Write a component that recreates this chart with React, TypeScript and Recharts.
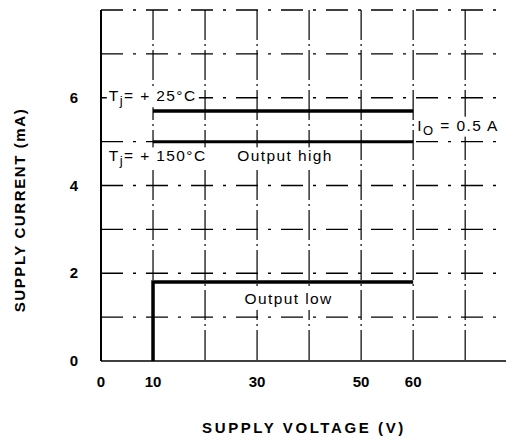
import { LineChart, Line, XAxis, YAxis, CartesianGrid, ReferenceDot } from 'recharts'

const xTicks = [0, 10, 30, 50, 60]
const yTicks = [0, 2, 4, 6]
const xDomain = [0, 79]
const yDomain = [0, 8]
const gridVoltages = [10, 20, 30, 40, 50, 60, 70]
const gridCurrents = [1, 2, 3, 4, 5, 6, 7, 8]

// output high, Tj = +25 C
const high25 = [
  { v: 10, i: 5.7 },
  { v: 60, i: 5.7 },
]
// output high, Tj = +150 C
const high150 = [
  { v: 10, i: 5.0 },
  { v: 60, i: 5.0 },
]
// output low
const low = [
  { v: 10, i: 0 },
  { v: 10, i: 1.8 },
  { v: 60, i: 1.8 },
]

const font = '"Liberation Sans", Arial, sans-serif'

// label with a white backing so grid lines break around it, like the printed chart
const Note = ({ cx, cy, text, sub, rest, w }: any) => (
  <g>
    <rect x={cx - 2} y={cy - 14} width={w} height={20} fill="#fff" />
    <text x={cx} y={cy} fontFamily={font} fontSize={15.5} letterSpacing={1.4} fill="#000">
      {text}
      {sub && (
        <tspan fontSize={13} dy={4}>
          {sub}
        </tspan>
      )}
      {rest && <tspan dy={sub ? -4 : 0}>{rest}</tspan>}
    </text>
  </g>
)

const XTick = ({ x, y, payload }: any) => (
  <text x={x} y={y + 18} textAnchor="middle" fontFamily={font} fontWeight="bold" fontSize={15} fill="#000">
    {payload.value}
  </text>
)

const YTick = ({ x, y, payload }: any) => (
  <text x={x - 19} y={y + 5} textAnchor="middle" fontFamily={font} fontWeight="bold" fontSize={15} fill="#000">
    {payload.value}
  </text>
)

// grid positions through the axis scale when available, otherwise from the plot offset
const vGrid = ({ xAxis, offset }: any) => {
  if (xAxis && typeof xAxis.scale === 'function') return gridVoltages.map((g) => xAxis.scale(g))
  return gridVoltages.map((g) => offset.left + ((g - xDomain[0]) / (xDomain[1] - xDomain[0])) * offset.width)
}
const hGrid = ({ yAxis, offset }: any) => {
  if (yAxis && typeof yAxis.scale === 'function') return gridCurrents.map((g) => yAxis.scale(g))
  return gridCurrents.map((g) => offset.top + (1 - (g - yDomain[0]) / (yDomain[1] - yDomain[0])) * offset.height)
}

export default function App() {
  return (
    <LineChart width={506} height={432} margin={{ top: 2, right: 2, bottom: 0, left: 0 }}>
      <CartesianGrid
        horizontal={false}
        stroke="#000"
        strokeWidth={1.2}
        strokeDasharray="30 4 2 4"
        verticalCoordinatesGenerator={vGrid}
      />
      <CartesianGrid
        vertical={false}
        stroke="#000"
        strokeWidth={1.3}
        strokeDasharray="22 10 3 10"
        horizontalCoordinatesGenerator={hGrid}
      />
      <XAxis
        type="number"
        dataKey="v"
        domain={xDomain}
        ticks={xTicks}
        tick={<XTick />}
        tickLine={false}
        axisLine={{ stroke: '#000', strokeWidth: 1.5 }}
        height={79}
        allowDataOverflow
        label={() => (
          <text
            x={296}
            y={425}
            textAnchor="middle"
            fontFamily={font}
            fontWeight="bold"
            fontSize={15}
            letterSpacing={2.6}
            fill="#000"
          >
            SUPPLY VOLTAGE (V)
          </text>
        )}
      />
      <YAxis
        type="number"
        domain={yDomain}
        ticks={yTicks}
        tick={<YTick />}
        tickLine={false}
        axisLine={{ stroke: '#000', strokeWidth: 2 }}
        width={93}
        allowDataOverflow
        label={() => (
          <text
            x={17}
            y={202}
            transform="rotate(-90 17 202)"
            textAnchor="middle"
            fontFamily={font}
            fontWeight="bold"
            fontSize={15}
            letterSpacing={1.6}
            fill="#000"
          >
            SUPPLY CURRENT (mA)
          </text>
        )}
      />
      <Line data={high25} dataKey="i" type="linear" stroke="#000" strokeWidth={3.5} dot={false} isAnimationActive={false} />
      <Line data={high150} dataKey="i" type="linear" stroke="#000" strokeWidth={3} dot={false} isAnimationActive={false} />
      <Line data={low} dataKey="i" type="linear" stroke="#000" strokeWidth={3.5} dot={false} isAnimationActive={false} />
      <ReferenceDot x={1.5} y={5.92} r={0} shape={(p: any) => <Note {...p} w={92} text="T" sub="j" rest="= + 25°C" />} />
      <ReferenceDot x={1.5} y={4.55} r={0} shape={(p: any) => <Note {...p} w={102} text="T" sub="j" rest="= + 150°C" />} />
      <ReferenceDot x={26.2} y={4.55} r={0} shape={(p: any) => <Note {...p} w={98} text="Output high" />} />
      <ReferenceDot x={60.8} y={5.25} r={0} shape={(p: any) => <Note {...p} w={86} text="I" sub="O" rest=" = 0.5 A" />} />
      <ReferenceDot x={27.6} y={1.3} r={0} shape={(p: any) => <Note {...p} w={92} text="Output low" />} />
    </LineChart>
  )
}
